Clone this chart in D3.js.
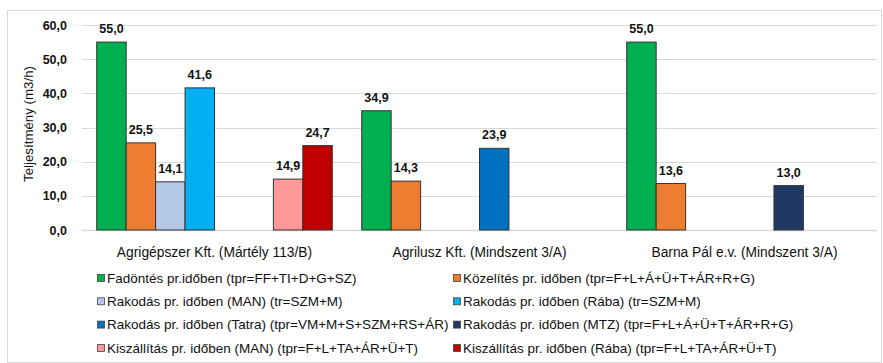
<!DOCTYPE html>
<html>
<head>
<meta charset="utf-8">
<script src="https://cdn.jsdelivr.net/npm/d3@7"></script>
<style>
  html, body { margin: 0; padding: 0; background: #fff; }
  svg text { font-family: "Liberation Sans", Arial, sans-serif; fill: #111; }
</style>
</head>
<body>
<svg id="chart" width="883" height="363"></svg>
<script>
// Telephelyek (kategóriák)
const categories = [
  "Agrigépszer Kft. (Mártély 113/B)",
  "Agrilusz Kft. (Mindszent 3/A)",
  "Barna Pál e.v. (Mindszent 3/A)"
];

// Sorozatnevek
const seriesNames = [
  "Fadöntés pr.időben (tpr=FF+TI+D+G+SZ)",
  "Közelítés pr. időben (tpr=F+L+Á+Ü+T+ÁR+R+G)",
  "Rakodás pr. időben (MAN) (tr=SZM+M)",
  "Rakodás pr. időben (Rába) (tr=SZM+M)",
  "Rakodás pr. időben (Tatra) (tpr=VM+M+S+SZM+RS+ÁR)",
  "Rakodás pr. időben (MTZ) (tpr=F+L+Á+Ü+T+ÁR+R+G)",
  "Kiszállítás pr. időben (MAN) (tpr=F+L+TA+ÁR+Ü+T)",
  "Kiszállítás pr. időben (Rába) (tpr=F+L+TA+ÁR+Ü+T)"
];

// Teljesítmény (m3/h) sorozatonként, telephelyek sorrendjében
const fadontes      = [55.0, 34.9, 55.0];
const kozelites     = [25.5, 14.3, 13.6];
const rakodasMAN    = [14.1, null, null];
const rakodasRaba   = [41.6, null, null];
const rakodasTatra  = [null, 23.9, null];
const rakodasMTZ    = [null, null, 13.0];
const kiszallMAN    = [14.9, null, null];
const kiszallRaba   = [24.7, null, null];

const seriesValues = [fadontes, kozelites, rakodasMAN, rakodasRaba,
                      rakodasTatra, rakodasMTZ, kiszallMAN, kiszallRaba];

const seriesColors = ["#00B050", "#ED7D31", "#B4C7E7", "#00B0F0",
                      "#0070C0", "#203864", "#FF9999", "#C00000"];

const yTicks = [0, 10, 20, 30, 40, 50, 60];

const fmt = v => v.toFixed(1).replace(".", ",");

const svg = d3.select("#chart");

// külső keret
svg.append("rect")
  .attr("x", 7.5).attr("y", 10.5)
  .attr("width", 874).attr("height", 352)
  .attr("fill", "none").attr("stroke", "#d9d9d9").attr("stroke-width", 1);

const plot = { left: 82, right: 877, top: 25, bottom: 230 };

const y = d3.scaleLinear().domain([0, 60]).range([plot.bottom, plot.top]);
const x0 = d3.scaleBand().domain(categories).range([plot.left, plot.right]).padding(0);
const x1 = d3.scaleBand().domain(d3.range(seriesNames.length))
  .range([0, x0.bandwidth()]).paddingInner(0).paddingOuter(0.5);

// rácsvonalak
svg.append("g")
  .selectAll("line")
  .data(yTicks)
  .join("line")
  .attr("x1", plot.left).attr("x2", plot.right)
  .attr("y1", d => Math.round(y(d)) + 0.5).attr("y2", d => Math.round(y(d)) + 0.5)
  .attr("stroke", "#d9d9d9").attr("stroke-width", d => d === 0 ? 1.5 : 1.2);

// y tengely feliratai
const yAxis = d3.axisLeft(y).tickValues(yTicks).tickFormat(fmt).tickSize(0).tickPadding(0);
const gy = svg.append("g").attr("transform", `translate(67,0)`).call(yAxis);
gy.select(".domain").remove();
gy.selectAll("text")
  .attr("font-size", 12.5).attr("font-weight", "bold")
  .style("font-family", "'Liberation Sans', Arial, sans-serif").attr("fill", "#111");

// y tengely címe
svg.append("text")
  .attr("transform", "translate(33,124) rotate(-90)")
  .attr("text-anchor", "middle")
  .attr("font-size", 13.3)
  .text("Teljesítmény (m3/h)");

// x tengely feliratai
const xAxis = d3.axisBottom(x0).tickSize(0).tickPadding(0);
const gx = svg.append("g").attr("transform", `translate(0,${plot.bottom + 17})`).call(xAxis);
gx.select(".domain").remove();
gx.selectAll("text")
  .attr("font-size", 13.8).attr("dy", "0.71em")
  .style("font-family", "'Liberation Sans', Arial, sans-serif").attr("fill", "#111");

// oszlopok
const barData = [];
categories.forEach((c, ci) => {
  seriesValues.forEach((vals, si) => {
    const v = vals[ci];
    if (v !== null) barData.push({ c, si, v });
  });
});

svg.append("g")
  .selectAll("rect")
  .data(barData)
  .join("rect")
  .attr("x", d => x0(d.c) + x1(d.si))
  .attr("y", d => y(d.v))
  .attr("width", x1.bandwidth())
  .attr("height", d => y(0) - y(d.v))
  .attr("fill", d => seriesColors[d.si])
  .attr("stroke", "#333").attr("stroke-width", 1);

// értékcímkék
svg.append("g")
  .selectAll("text")
  .data(barData)
  .join("text")
  .attr("x", d => x0(d.c) + x1(d.si) + x1.bandwidth() / 2)
  .attr("y", d => y(d.v) - 9)
  .attr("text-anchor", "middle")
  .attr("font-size", 12.5).attr("font-weight", "bold")
  .text(d => fmt(d.v));

// jelmagyarázat, két oszlopban
const legendX = [97, 453];
const legendY0 = 278, legendStep = 23.3;
const legend = svg.append("g")
  .selectAll("g")
  .data(seriesNames.map((n, i) => ({ n, i })))
  .join("g")
  .attr("transform", d => `translate(${legendX[d.i % 2]},${legendY0 + Math.floor(d.i / 2) * legendStep})`);

legend.append("rect")
  .attr("x", 0.5).attr("y", -3.5).attr("width", 7).attr("height", 7)
  .attr("fill", d => seriesColors[d.i])
  .attr("stroke", "#444").attr("stroke-width", 0.8);

legend.append("text")
  .attr("x", 10).attr("dy", "0.36em")
  .attr("font-size", 13.5)
  .text(d => d.n);
</script>
</body>
</html>
